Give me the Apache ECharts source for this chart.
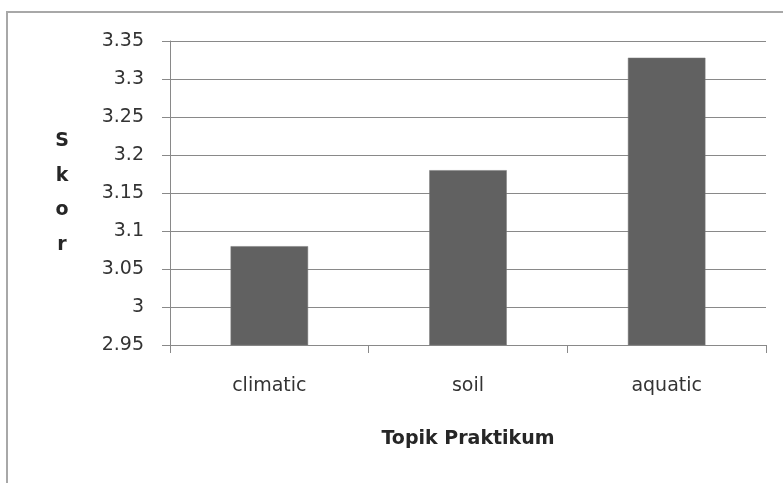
<!DOCTYPE html>
<html>
<head>
<meta charset="utf-8">
<script src="https://cdn.jsdelivr.net/npm/echarts@6/dist/echarts.min.js"></script>
<style>
html,body{margin:0;padding:0;background:#fff;}
#chart{width:783px;height:483px;}
</style>
</head>
<body>
<div id="chart"></div>
<script>
var categories = ['climatic', 'soil', 'aquatic'];
var skorValues = [3.08, 3.18, 3.328];
var yMin = 2.95;
var yMax = 3.35;
var yStep = 0.05;
var xAxisTitle = 'Topik Praktikum';
var yAxisTitle = 'S\nk\no\nr';

var FONT = '"DejaVu Sans", "Noto Sans", sans-serif';
var chart = echarts.init(document.getElementById('chart'), null, {renderer: 'canvas'});
chart.setOption({
  backgroundColor: '#ffffff',
  animation: false,
  graphic: [{
    type: 'rect',
    shape: {x: 7, y: 12, width: 820, height: 520},
    style: {fill: null, stroke: '#a8a8a8', lineWidth: 2},
    silent: true,
    z: -1
  }],
  grid: {left: 170, right: 17, top: 41, bottom: 138, containLabel: false},
  xAxis: {
    type: 'category',
    data: categories,
    boundaryGap: true,
    name: xAxisTitle,
    nameLocation: 'middle',
    nameGap: 85,
    nameTextStyle: {fontFamily: FONT, fontSize: 19, fontWeight: 'bold', color: '#262626'},
    axisLine: {show: true, lineStyle: {color: '#898989', width: 1}},
    axisTick: {show: true, length: 8, lineStyle: {color: '#898989'}},
    axisLabel: {margin: 32, fontFamily: FONT, fontSize: 19, color: '#333333'}
  },
  yAxis: {
    type: 'value',
    min: yMin,
    max: yMax,
    interval: yStep,
    name: yAxisTitle,
    nameLocation: 'middle',
    nameRotate: 0,
    nameGap: 108,
    nameTextStyle: {fontFamily: FONT, fontSize: 19, fontWeight: 'bold', color: '#262626', lineHeight: 34.5, align: 'center', verticalAlign: 'middle'},
    axisLine: {show: true, lineStyle: {color: '#898989', width: 1}},
    axisTick: {show: true, length: 8, lineStyle: {color: '#898989'}},
    splitLine: {show: true, lineStyle: {color: '#898989', width: 1}},
    axisLabel: {
      margin: 26,
      fontFamily: FONT,
      fontSize: 19,
      color: '#333333',
      formatter: function (v) { return String(parseFloat(v.toFixed(2))); }
    }
  },
  series: [{
    type: 'bar',
    data: skorValues,
    barCategoryGap: '61%',
    itemStyle: {color: '#616161', borderColor: '#7a7a7a', borderWidth: 0.5}
  }]
});
</script>
</body>
</html>
